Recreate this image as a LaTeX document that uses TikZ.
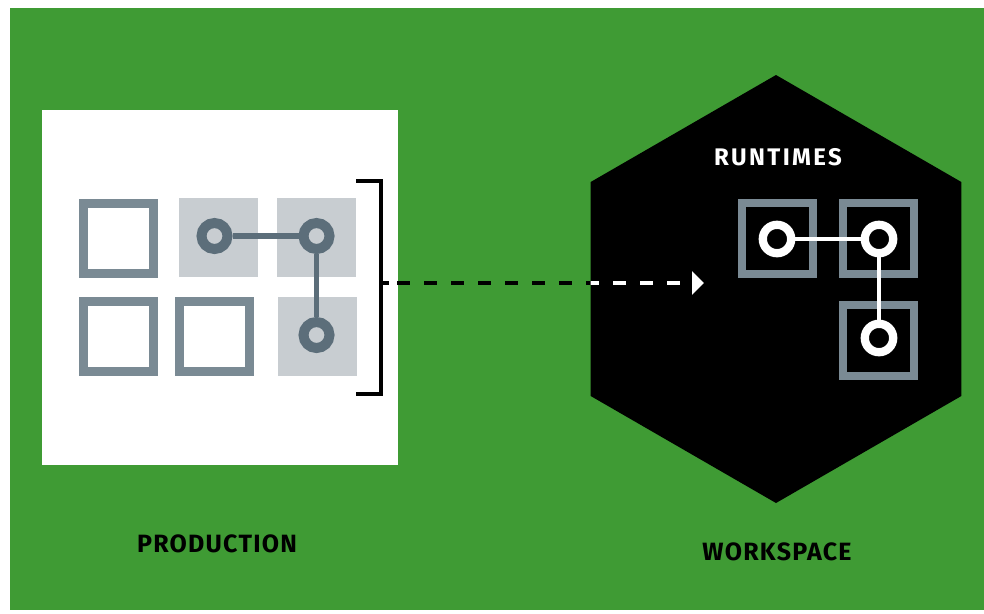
\documentclass[tikz,border=0pt]{standalone}
\usepackage{fontspec}
\newfontfamily\labelfont[LetterSpace=5]{Fira Sans}
\newfontfamily\runfont[LetterSpace=10]{Fira Sans}
\usetikzlibrary{arrows.meta}
\definecolor{bggreen}{RGB}{63,155,52}
\definecolor{boxgray}{RGB}{122,138,148}
\definecolor{fillgray}{RGB}{200,205,209}
\definecolor{dotgray}{RGB}{92,110,122}
\begin{document}
\begin{tikzpicture}[
        x=1pt, y=-1pt,
        outbox/.style={rectangle, draw=boxgray, line width=9pt, minimum size=70pt, inner sep=0pt},
        filledbox/.style={rectangle, fill=fillgray, minimum size=79pt, inner sep=0pt},
        rtbox/.style={rectangle, draw=boxgray, fill=black, line width=8pt, minimum size=71pt, inner sep=0pt},
        dot/.style={circle, draw=dotgray, fill=fillgray, line width=10pt, minimum size=26pt, inner sep=0pt},
        wdot/.style={circle, draw=white, fill=black, line width=8.3pt, minimum size=28.4pt, inner sep=0pt},
        link/.style={draw=dotgray, line width=5.5pt},
        wlink/.style={draw=white, line width=4.5pt},
        caption/.style={font=\labelfont\bfseries\fontsize{25}{25}\selectfont, inner sep=0pt}
    ]
        % Background
        \useasboundingbox (0,0) rectangle (984,613);
        \fill[white] (0,0) rectangle (984,613);
        \fill[bggreen] (10,8) rectangle (984,610);

        % Production
        \fill[white] (42,110) rectangle (398,465);
        \node[outbox] (p1) at (118.5,238.5) {};
        \node[filledbox] (p2) at (218,237.5) {};
        \node[filledbox] (p3) at (316,237.5) {};
        \node[outbox] (p4) at (118.5,336.5) {};
        \node[outbox] (p5) at (214.5,336.5) {};
        \node[filledbox] (p6) at (317,336.5) {};
        \node[dot] (c1) at (214.5,236) {};
        \node[dot] (c2) at (316.5,236) {};
        \node[dot] (c3) at (316.5,335) {};
        \draw[link] (c1) -- (c2);
        \draw[link] (c2) -- (c3);

        % Bracket
        \draw[line width=3.5pt] (356,181) -- (381,181) -- (381,394) -- (356,394);
        \draw[line width=3.5pt] (381,283) -- (389,283);

        % Workspace
        \path[fill=black] (776,289) +(90:214) -- +(150:214) -- +(210:214) -- +(270:214) -- +(330:214) -- +(30:214) -- cycle;
        \node[font=\runfont\bfseries\fontsize{24}{24}\selectfont, text=white, inner sep=0pt] (runtimes) at (778,157) {RUNTIMES};

        % Dashed arrow
        \coordinate (dashstart) at (397,283);
        \coordinate (dashend) at (704,283);
        \draw[line width=4pt, dash pattern=on 13pt off 14pt] (dashstart) -- (dashend);
        \begin{scope}
            \clip (776,289) +(90:214) -- +(150:214) -- +(210:214) -- +(270:214) -- +(330:214) -- +(30:214) -- cycle;
            \draw[white, line width=4pt, dash pattern=on 13pt off 14pt, -{Triangle[length=12pt, width=23pt]}] (dashstart) -- (dashend);
        \end{scope}

        % Runtimes
        \node[rtbox] (r1) at (777.5,238.5) {};
        \node[rtbox] (r2) at (878.5,238.5) {};
        \node[rtbox] (r3) at (878.5,340) {};
        \node[wdot] (w1) at (777,239) {};
        \node[wdot] (w2) at (879,239) {};
        \node[wdot] (w3) at (879,338) {};
        \draw[wlink] (w1) -- (w2);
        \draw[wlink] (w2) -- (w3);

        % Captions
        \node[caption] (production) at (217,544) {PRODUCTION};
        \node[caption] (workspace) at (777,552) {WORKSPACE};
    \end{tikzpicture}
\end{document}
